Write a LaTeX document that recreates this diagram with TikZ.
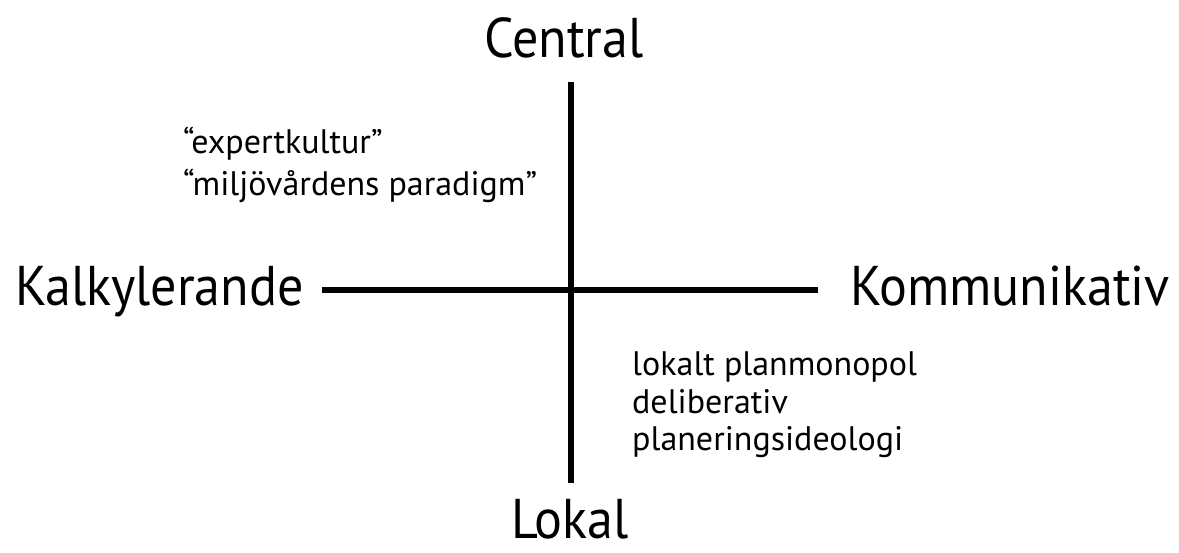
\documentclass[tikz,border=0pt]{standalone}
\usepackage{fontspec}
\setmainfont{PT Sans}
\newcommand{\narrowtext}[1]{\scalebox{0.93}[1]{#1}}
\begin{document}
\begin{tikzpicture}[x=1pt,y=-1pt,
  axislabel/.style={inner sep=0pt,font=\fontsize{56}{60}\selectfont},
  smalllabel/.style={inner sep=0pt,font=\fontsize{34}{40}\selectfont},
  axisline/.style={line width=6pt}]
\useasboundingbox (0,0) rectangle (1179,552);
\coordinate (top) at (571,82);
\coordinate (bottom) at (571,483);
\coordinate (left) at (322,290);
\coordinate (right) at (818,290);
\draw[axisline] (top) -- (bottom);
\draw[axisline] (left) -- (right);
\node[axislabel,anchor=base] (central) at (564,57) {\narrowtext{Central}};
\node[axislabel,anchor=base] (lokal) at (570,538) {\narrowtext{Lokal}};
\node[axislabel,anchor=base west] (kalk) at (15,305) {\narrowtext{Kalkylerande}};
\node[axislabel,anchor=base east] (komm) at (1170,305) {\narrowtext{Kommunikativ}};
\node[smalllabel,anchor=base west] (exp) at (183,153) {“expertkultur”};
\node[smalllabel,anchor=base west] (milj) at (183,195) {“miljövårdens paradigm”};
\node[smalllabel,anchor=base west] (lok) at (632,375) {lokalt planmonopol};
\node[smalllabel,anchor=base west] (delib) at (632,413) {deliberativ};
\node[smalllabel,anchor=base west] (plan) at (632,450) {planeringsideologi};
\end{tikzpicture}
\end{document}
